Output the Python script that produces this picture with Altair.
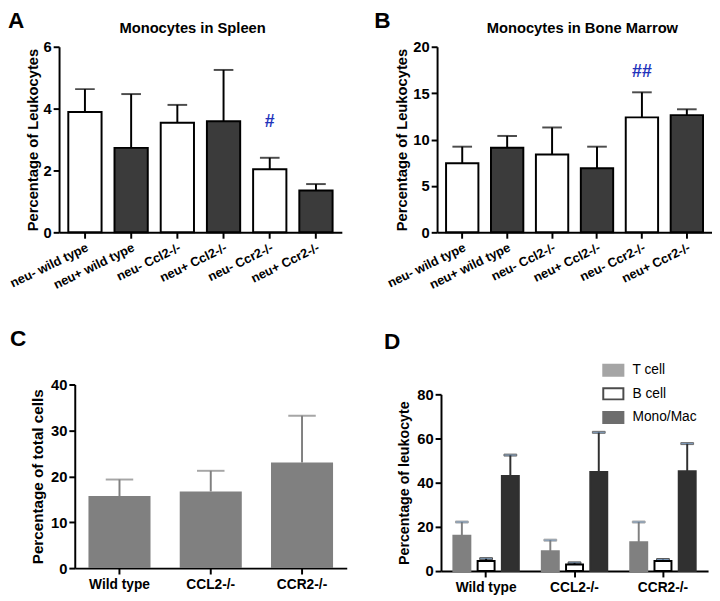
import altair as alt
import pandas as pd

FONT = "Liberation Sans"
DARK = "#3b3b3b"
GRAY = "#808080"
BLUE = "#2233bb"

# ---------------- data ----------------
ab_groups = ["neu- wild type", "neu+ wild type", "neu- Ccl2-/-",
             "neu+ Ccl2-/-", "neu- Ccr2-/-", "neu+ Ccr2-/-"]
ab_status = ["neu-", "neu+", "neu-", "neu+", "neu-", "neu+"]

a_means = [3.89, 2.73, 3.54, 3.59, 2.04, 1.35]
a_tops = [4.63, 4.47, 4.12, 5.25, 2.41, 1.56]
a_mark_group = ["neu- Ccr2-/-"]
a_mark_y = [3.57]
a_mark_text = ["#"]

b_means = [7.44, 9.12, 8.39, 6.91, 12.39, 12.63]
b_tops = [9.23, 10.39, 11.30, 9.23, 15.09, 13.26]
b_mark_group = ["neu- Ccr2-/-"]
b_mark_y = [17.3]
b_mark_text = ["##"]

c_groups = ["Wild type", "CCL2-/-", "CCR2-/-"]
c_means = [15.7, 16.7, 23.0]
c_tops = [19.3, 21.2, 33.2]

d_cells = ["T cell", "B cell", "Mono/Mac"]
d_t_means = [16.0, 9.0, 13.0]
d_t_tops = [22.2, 14.0, 22.2]
d_b_means = [4.6, 3.0, 4.6]
d_b_tops = [5.6, 3.7, 5.2]
d_m_means = [43.0, 44.8, 45.2]
d_m_tops = [52.5, 62.8, 57.7]


def text_mark(txt, x, y, size, align="left", weight="bold", opacity=1):
    return alt.Chart(pd.DataFrame({"t": [txt]})).mark_text(
        font=FONT, fontSize=size, fontWeight=weight, color="black",
        align=align, baseline="alphabetic", opacity=opacity
    ).encode(x=alt.value(x), y=alt.value(y), text="t:N")


def spacer(x, y):
    # invisible anchor that fixes the panel's left extent for the layout
    return text_mark(".", x, y, 10, opacity=0)


def top_panel(means, tops, ymax, yticks, title, tx, mg, my, mt, lx, lt,
              width, sx):
    df = pd.DataFrame({"group": ab_groups, "status": ab_status,
                       "mean": means, "top": tops})
    xenc = alt.X("group:N", sort=ab_groups,
                 scale=alt.Scale(paddingInner=0.28, paddingOuter=0.2),
                 axis=alt.Axis(title=None, labelAngle=-26, labelAlign="right",
                               labelBaseline="top", labelFontSize=13,
                               labelPadding=3))
    yenc = alt.Y("mean:Q", scale=alt.Scale(domain=[0, ymax], nice=False),
                 axis=alt.Axis(values=yticks, title="Percentage of Leukocytes",
                               titleFontSize=15, labelFontSize=15,
                               titlePadding=3))
    base = alt.Chart(df)
    rule = base.mark_rule(color="black", strokeWidth=2).encode(
        x=alt.X("group:N", sort=ab_groups), y="mean:Q", y2="top:Q")
    cap = base.mark_tick(color="black", thickness=2, size=20).encode(
        x=alt.X("group:N", sort=ab_groups), y="top:Q")
    bars = base.mark_bar(stroke="black", strokeWidth=2).encode(
        x=xenc, y=yenc,
        fill=alt.Fill("status:N", scale=alt.Scale(domain=["neu-", "neu+"],
                                                  range=["white", DARK]),
                      legend=None))
    ann = alt.Chart(pd.DataFrame({"group": mg, "y": my, "t": mt})).mark_text(
        font=FONT, fontSize=18, fontWeight="bold", color=BLUE
    ).encode(x=alt.X("group:N", sort=ab_groups), y="y:Q", text="t:N")
    return alt.layer(
        rule, cap, bars, ann,
        text_mark(lt, lx, -19, 23),
        text_mark(title, tx, -14, 15, align="center"),
        spacer(sx, 100),
    ).properties(width=width, height=189)


panel_a = top_panel(a_means, a_tops, 6, [0, 2, 4, 6], "Monocytes in Spleen", 136,
                    a_mark_group, a_mark_y, a_mark_text, -52, "A", 288, -80)
panel_b = top_panel(b_means, b_tops, 20, [0, 5, 10, 15, 20],
                    "Monocytes in Bone Marrow", 148,
                    b_mark_group, b_mark_y, b_mark_text, -64, "B", 280, -70)

# ---------------- panel C ----------------
C_SHIFT = 16
C_W = 277
df_c = pd.DataFrame({"group": c_groups, "mean": c_means, "top": c_tops})
cx = alt.X("group:N", sort=c_groups,
           scale=alt.Scale(paddingInner=0.32, paddingOuter=0.15,
                           range=[C_SHIFT, C_SHIFT + C_W]),
           axis=alt.Axis(title=None, labelAngle=0, labelAlign="center",
                         labelBaseline="top", labelFontSize=14,
                         labelPadding=4))
cy = alt.Y("mean:Q", scale=alt.Scale(domain=[0, 40], nice=False),
           axis=alt.Axis(values=[0, 10, 20, 30, 40], offset=-C_SHIFT,
                         title="Percentage of total cells",
                         titleFontSize=15.5, labelFontSize=15, titlePadding=5))
cbase = alt.Chart(df_c)
c_rule = cbase.mark_rule(color=GRAY, strokeWidth=2).encode(
    x=alt.X("group:N", sort=c_groups), y="mean:Q", y2="top:Q")
c_cap = cbase.mark_tick(color=GRAY, thickness=2, size=28).encode(
    x=alt.X("group:N", sort=c_groups), y="top:Q")
c_bars = cbase.mark_bar(color=GRAY).encode(x=cx, y=cy)
panel_c = alt.layer(c_rule, c_cap, c_bars,
                    text_mark("C", C_SHIFT - 66, -39, 23)).properties(
    width=C_W + C_SHIFT, height=187)

# ---------------- panel D ----------------
D_TOP = 10
D_H = 190
d_rows = []
for gi, g in enumerate(c_groups):
    for cell, m, t in ((d_cells[0], d_t_means, d_t_tops),
                       (d_cells[1], d_b_means, d_b_tops),
                       (d_cells[2], d_m_means, d_m_tops)):
        d_rows.append({"group": g, "cell": cell, "mean": m[gi], "top": t[gi]})
df_d = pd.DataFrame(d_rows)

dx = alt.X("group:N", sort=c_groups,
           scale=alt.Scale(paddingInner=0.26, paddingOuter=0.14),
           axis=alt.Axis(title=None, labelAngle=0, labelAlign="center",
                         labelBaseline="top", labelFontSize=14,
                         labelPadding=4))
dxo = alt.XOffset("cell:N", sort=d_cells,
                  scale=alt.Scale(paddingInner=0.3, paddingOuter=0))
dy = alt.Y("mean:Q", scale=alt.Scale(domain=[0, 80], nice=False,
                                     range=[D_H, D_TOP]),
           axis=alt.Axis(values=[0, 20, 40, 60, 80],
                         title="Percentage of leukocyte",
                         titleFontSize=14.5, labelFontSize=15, titlePadding=5))
leg = alt.Legend(title=None, orient="none", legendX=164, legendY=-26,
                 labelFont=FONT, labelFontSize=14, labelFontWeight="normal",
                 labelColor="black",
                 symbolType="M-1,-0.55H1V0.55H-1Z", symbolSize=420,
                 symbolStrokeWidth=2, rowPadding=2, labelOffset=8)
cell_fill = alt.Fill("cell:N", sort=d_cells,
                     scale=alt.Scale(domain=d_cells, range=[GRAY, "white", "#303030"]),
                     legend=leg)
cell_stroke = alt.Stroke("cell:N", sort=d_cells,
                         scale=alt.Scale(domain=d_cells, range=[GRAY, "black", "#303030"]),
                         legend=leg)
dbase = alt.Chart(df_d)
d_rule = dbase.mark_rule(strokeWidth=2).encode(
    x=alt.X("group:N", sort=c_groups), xOffset=dxo, y="mean:Q", y2="top:Q",
    stroke=cell_stroke)
d_cap = dbase.mark_tick(thickness=2, size=13).encode(
    x=alt.X("group:N", sort=c_groups), xOffset=dxo, y="top:Q",
    stroke=cell_stroke)
d_bars = dbase.mark_bar(strokeWidth=2).encode(
    x=dx, xOffset=dxo, y=dy, fill=cell_fill, stroke=cell_stroke)
panel_d = alt.layer(d_rule, d_cap, d_bars,
                    text_mark("D", -58, -36, 23),
                    spacer(-70, 100)).properties(width=272, height=D_H)

indep = dict(fill="independent", stroke="independent", color="independent")
top = alt.hconcat(panel_a, panel_b, spacing=27).resolve_scale(**indep)
bottom = alt.hconcat(panel_c, panel_d, spacing=26).resolve_scale(**indep)
chart = alt.vconcat(top, bottom, spacing=37).resolve_scale(**indep).configure(
    font=FONT
).configure_view(stroke=None).configure_axis(
    labelFont=FONT, titleFont=FONT, labelFontWeight="bold",
    titleFontWeight="bold", labelColor="black", titleColor="black",
    domainColor="black", tickColor="black", domainWidth=2, tickWidth=2,
    tickSize=6, grid=False
).properties(padding={"left": -28, "top": -3, "right": 0, "bottom": 0})

chart.save("out.html", embed_options={"renderer": "svg", "actions": False})
